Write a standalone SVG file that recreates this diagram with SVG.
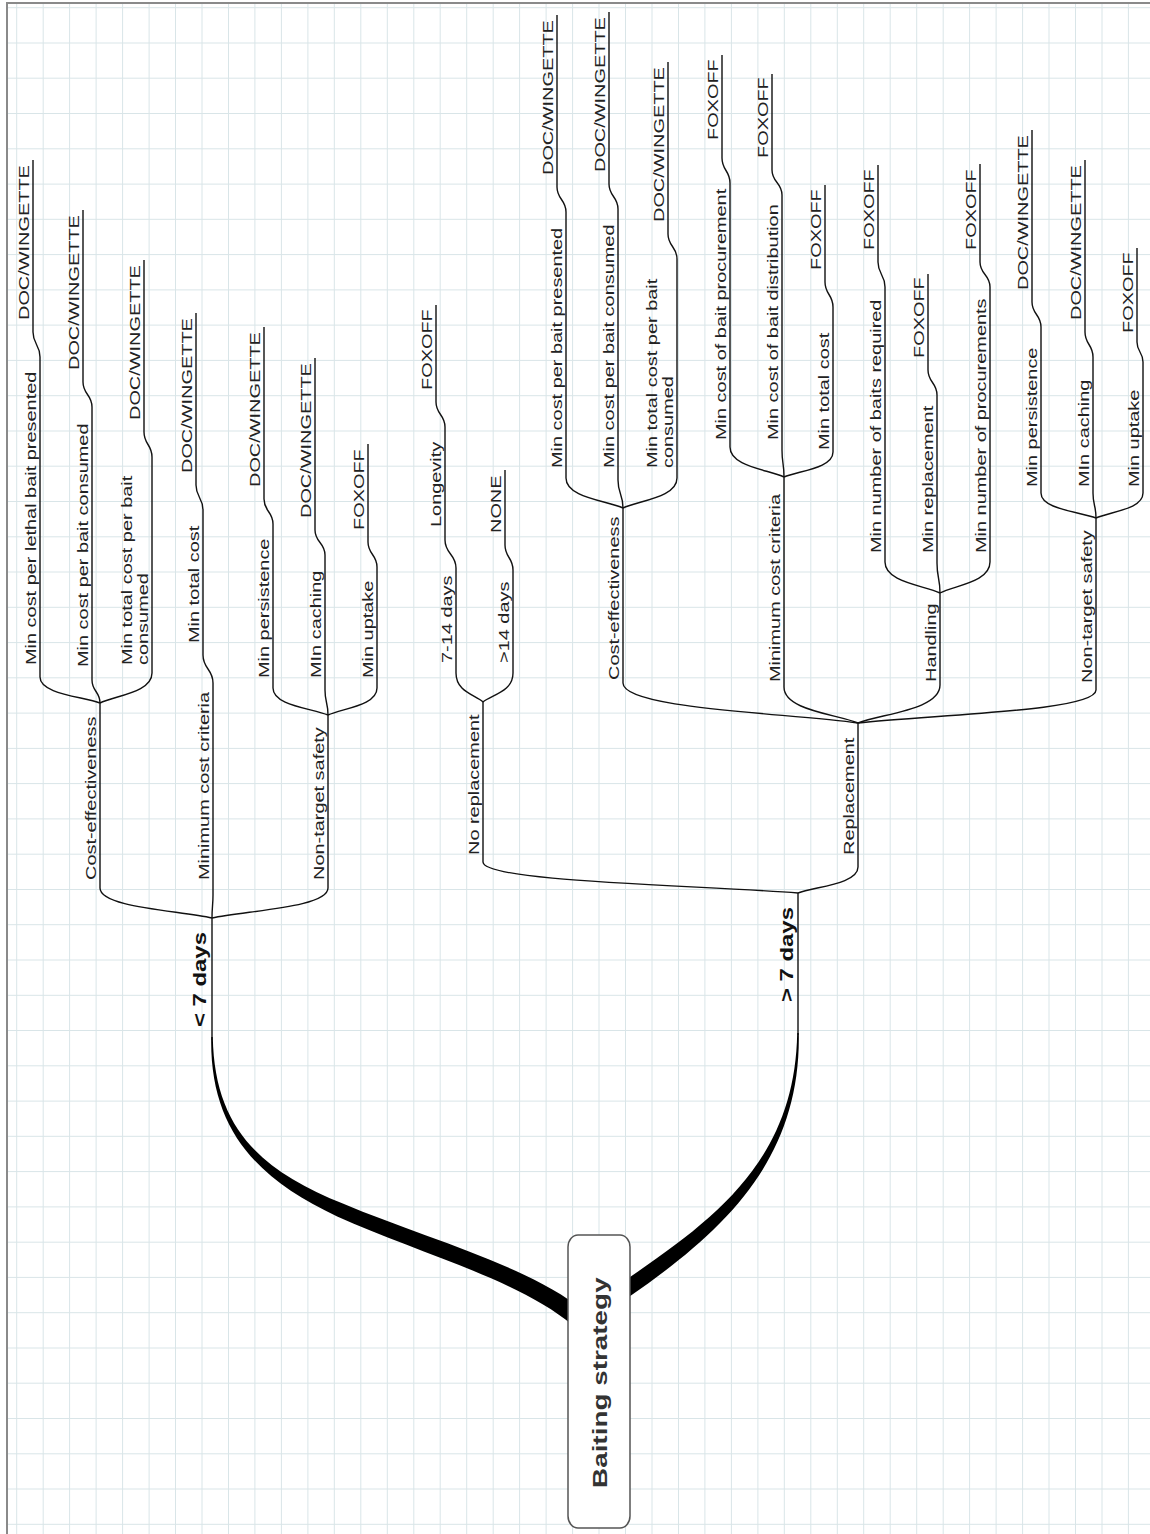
<svg xmlns="http://www.w3.org/2000/svg" width="1150" height="1534" viewBox="0 0 1150 1534">
<style>
.grid{fill:none;stroke:#d9e5e8;stroke-width:1}
.border{fill:none;stroke:#8a8a8a;stroke-width:2}
.conn{fill:none;stroke:#111;stroke-width:1.4}
.thick{fill:#000;stroke:none}
.t{font-family:"Liberation Sans",Arial,sans-serif;font-size:15px;fill:#222}
.b{font-weight:bold;font-size:18px;fill:#111}
.root{font-weight:bold;font-size:21px;fill:#333}
.box{fill:#fff;stroke:#555;stroke-width:1.5}
</style>
<rect width="1150" height="1534" fill="#fff"/>
<path class="grid" d="M16.7,0V1534M43.2,0V1534M69.6,0V1534M96.1,0V1534M122.6,0V1534M149.1,0V1534M175.5,0V1534M202,0V1534M228.5,0V1534M254.9,0V1534M281.4,0V1534M307.9,0V1534M334.3,0V1534M360.8,0V1534M387.3,0V1534M413.8,0V1534M440.2,0V1534M466.7,0V1534M493.2,0V1534M519.6,0V1534M546.1,0V1534M572.6,0V1534M599,0V1534M625.5,0V1534M652,0V1534M678.5,0V1534M704.9,0V1534M731.4,0V1534M757.9,0V1534M784.3,0V1534M810.8,0V1534M837.3,0V1534M863.7,0V1534M890.2,0V1534M916.7,0V1534M943.2,0V1534M969.6,0V1534M996.1,0V1534M1022.6,0V1534M1049,0V1534M1075.5,0V1534M1102,0V1534M1128.4,0V1534M0,7.7H1150M0,43H1150M0,78.2H1150M0,113.5H1150M0,148.8H1150M0,184.1H1150M0,219.3H1150M0,254.6H1150M0,289.9H1150M0,325.1H1150M0,360.4H1150M0,395.7H1150M0,431H1150M0,466.2H1150M0,501.5H1150M0,536.8H1150M0,572H1150M0,607.3H1150M0,642.6H1150M0,677.8H1150M0,713.1H1150M0,748.4H1150M0,783.6H1150M0,818.9H1150M0,854.2H1150M0,889.5H1150M0,924.7H1150M0,960H1150M0,995.3H1150M0,1030.5H1150M0,1065.8H1150M0,1101.1H1150M0,1136.3H1150M0,1171.6H1150M0,1206.9H1150M0,1242.2H1150M0,1277.4H1150M0,1312.7H1150M0,1348H1150M0,1383.2H1150M0,1418.5H1150M0,1453.8H1150M0,1489H1150M0,1524.3H1150"/>
<rect x="0" y="0" width="7" height="1534" fill="#fff"/>
<rect x="0" y="0" width="1150" height="3" fill="#fff"/>
<path class="border" d="M7,1534V3H1150"/>

<g id="connectors">
<path class="thick" d="M212.8,1037 C214.5,1130 262,1170.4 342.8,1203.6 C423.2,1237.7 530.8,1266.1 583.8,1311.1 L572.2,1324.9 C519.2,1279.9 416.8,1252.3 337.2,1216.4 C258,1179.6 209.5,1130 211.2,1037 Z"/>
<path class="thick" d="M798.8,1033 C801,1160 724,1230.8 629.5,1296.6 L620.5,1283.4 C716,1219.2 795,1160 797.2,1033 Z"/>
<path class="conn" d="M212,1040 L212,918"/>
<path class="conn" d="M212,918 C178.4,910.5 100,907.5 100,888 L100,703"/>
<path class="conn" d="M212,918 C212,906 213,906 213,895 L213,683"/>
<path class="conn" d="M212,918 C246.8,910.5 328,907.5 328,888 L328,715"/>
<path class="conn" d="M100,703 C82,696.5 40,693.9 40,677 L40,357"/>
<path class="conn" d="M100,703 C100,691.5 92,691.5 92,680 L92,407"/>
<path class="conn" d="M100,703 C115.6,695.5 152,692.5 152,673 L152,457"/>
<path class="conn" d="M213,683 C213,669 203,669 203,655 L203,510"/>
<path class="conn" d="M328,715 C311.5,708.25 273,705.55 273,688 L273,524"/>
<path class="conn" d="M328,715 C328,702.5 325,702.5 325,690 L325,555"/>
<path class="conn" d="M328,715 C342.7,708.25 377,705.55 377,688 L377,567"/>
<path class="conn" d="M40,357 C40,344.5 33,344.5 33,332 L33,160"/>
<path class="conn" d="M92,407 C92,394.5 83,394.5 83,382 L83,210"/>
<path class="conn" d="M152,457 C152,444.5 144,444.5 144,432 L144,260"/>
<path class="conn" d="M203,510 C203,497.5 196,497.5 196,485 L196,313"/>
<path class="conn" d="M273,524 C273,511.5 264,511.5 264,499 L264,327"/>
<path class="conn" d="M325,555 C325,542.5 315,542.5 315,530 L315,358"/>
<path class="conn" d="M377,567 C377,554.5 368,554.5 368,542 L368,444"/>
<path class="conn" d="M798,1035 L798,893"/>
<path class="conn" d="M798,893 C703.5,885.25 483,882.15 483,862 L483,702"/>
<path class="conn" d="M798,893 C816,886.5 858,883.9 858,867 L858,723"/>
<path class="conn" d="M483,702 C475,694.75 456,691.85 456,673 L456,568"/>
<path class="conn" d="M483,702 C492,694.75 513,691.85 513,673 L513,570"/>
<path class="conn" d="M456,568 C456,554 445,554 445,540 L445,427"/>
<path class="conn" d="M445,427 C445,414.5 436,414.5 436,402 L436,305"/>
<path class="conn" d="M513,570 C513,557.5 505,557.5 505,545 L505,470"/>
<path class="conn" d="M858,723 C787.5,713 623,709 623,683 L623,508"/>
<path class="conn" d="M858,723 C835.8,714 784,710.4 784,687 L784,477"/>
<path class="conn" d="M858,723 C882.6,713.5 940,709.7 940,685 L940,593"/>
<path class="conn" d="M858,723 C929.4,714.75 1096,711.45 1096,690 L1096,518"/>
<path class="conn" d="M623,508 C605.9,500.5 566,497.5 566,478 L566,212"/>
<path class="conn" d="M623,508 C623,494 618,494 618,480 L618,209"/>
<path class="conn" d="M623,508 C639.2,500.5 677,497.5 677,478 L677,259"/>
<path class="conn" d="M566,212 C566,199.5 557,199.5 557,187 L557,15"/>
<path class="conn" d="M618,209 C618,196.5 609,196.5 609,184 L609,12"/>
<path class="conn" d="M677,259 C677,246.5 668,246.5 668,234 L668,62"/>
<path class="conn" d="M784,477 C767.8,469.5 730,466.5 730,447 L730,183"/>
<path class="conn" d="M784,477 C784,463.5 782,463.5 782,450 L782,195"/>
<path class="conn" d="M784,477 C798.7,470.75 833,468.25 833,452 L833,307"/>
<path class="conn" d="M730,183 C730,170.5 722,170.5 722,158 L722,55"/>
<path class="conn" d="M782,195 C782,182.5 772,182.5 772,170 L772,74"/>
<path class="conn" d="M833,307 C833,294.5 825,294.5 825,282 L825,185"/>
<path class="conn" d="M940,593 C923.5,585.25 885,582.15 885,562 L885,287"/>
<path class="conn" d="M940,593 C940,578 937,578 937,563 L937,395"/>
<path class="conn" d="M940,593 C955,585.25 990,582.15 990,562 L990,287"/>
<path class="conn" d="M885,287 C885,274.5 878,274.5 878,262 L878,165"/>
<path class="conn" d="M937,395 C937,382.5 928,382.5 928,370 L928,274"/>
<path class="conn" d="M990,287 C990,274.5 980,274.5 980,262 L980,164"/>
<path class="conn" d="M1096,518 C1079.5,511.75 1041,509.25 1041,493 L1041,327"/>
<path class="conn" d="M1096,518 C1096,505.5 1093,505.5 1093,493 L1093,357"/>
<path class="conn" d="M1096,518 C1110.1,511.75 1143,509.25 1143,493 L1143,362"/>
<path class="conn" d="M1041,327 C1041,314.5 1032,314.5 1032,302 L1032,130"/>
<path class="conn" d="M1093,357 C1093,344.5 1085,344.5 1085,332 L1085,160"/>
<path class="conn" d="M1143,362 C1143,352 1137,352 1137,342 L1137,248"/>
</g>

<g id="root">
<rect class="box" x="568" y="1235" width="62" height="293" rx="10" ry="12"/>
<text class="t root" transform="translate(607,1488) rotate(-90) scale(1.328,1)">Baiting strategy</text>
</g>

<g id="lt7"><text class="t b" transform="translate(206,1027) rotate(-90) scale(1.328,1)">&lt; 7 days</text></g>
<g id="l-ce"><text class="t" transform="translate(96,880) rotate(-90) scale(1.328,1)">Cost-effectiveness</text></g>
<g id="l-mcc"><text class="t" transform="translate(209,880) rotate(-90) scale(1.328,1)">Minimum cost criteria</text></g>
<g id="l-nts"><text class="t" transform="translate(324,880) rotate(-90) scale(1.328,1)">Non-target safety</text></g>
<g id="l-ce-1"><text class="t" transform="translate(36,665) rotate(-90) scale(1.328,1)">Min cost per lethal bait presented</text></g>
<g id="l-ce-2"><text class="t" transform="translate(88,667) rotate(-90) scale(1.328,1)">Min cost per bait consumed</text></g>
<g id="l-ce-3"><text class="t" transform="translate(132,665) rotate(-90) scale(1.328,1)"><tspan x="0" y="0">Min total cost per bait</tspan><tspan x="0" dy="16">consumed</tspan></text></g>
<g id="l-mcc-1"><text class="t" transform="translate(199,643) rotate(-90) scale(1.328,1)">Min total cost</text></g>
<g id="l-nts-1"><text class="t" transform="translate(269,678) rotate(-90) scale(1.328,1)">Min persistence</text></g>
<g id="l-nts-2"><text class="t" transform="translate(321,678) rotate(-90) scale(1.328,1)">MIn caching</text></g>
<g id="l-nts-3"><text class="t" transform="translate(373,678) rotate(-90) scale(1.328,1)">Min uptake</text></g>
<g id="l-leaf-1"><text class="t" transform="translate(29,320) rotate(-90) scale(1.328,1)">DOC/WINGETTE</text></g>
<g id="l-leaf-2"><text class="t" transform="translate(79,370) rotate(-90) scale(1.328,1)">DOC/WINGETTE</text></g>
<g id="l-leaf-3"><text class="t" transform="translate(140,420) rotate(-90) scale(1.328,1)">DOC/WINGETTE</text></g>
<g id="l-leaf-4"><text class="t" transform="translate(192,473) rotate(-90) scale(1.328,1)">DOC/WINGETTE</text></g>
<g id="l-leaf-5"><text class="t" transform="translate(260,487) rotate(-90) scale(1.328,1)">DOC/WINGETTE</text></g>
<g id="l-leaf-6"><text class="t" transform="translate(311,518) rotate(-90) scale(1.328,1)">DOC/WINGETTE</text></g>
<g id="l-leaf-7"><text class="t" transform="translate(364,530) rotate(-90) scale(1.328,1)">FOXOFF</text></g>

<g id="gt7"><text class="t b" transform="translate(793,1002) rotate(-90) scale(1.328,1)">&gt; 7 days</text></g>
<g id="r-norep"><text class="t" transform="translate(479,855) rotate(-90) scale(1.328,1)">No replacement</text></g>
<g id="r-rep"><text class="t" transform="translate(854,855) rotate(-90) scale(1.328,1)">Replacement</text></g>
<g id="r-714"><text class="t" transform="translate(452,663) rotate(-90) scale(1.328,1)">7-14 days</text></g>
<g id="r-14"><text class="t" transform="translate(509,663) rotate(-90) scale(1.328,1)">&gt;14 days</text></g>
<g id="r-longevity"><text class="t" transform="translate(441,527) rotate(-90) scale(1.328,1)">Longevity</text></g>
<g id="r-long-fox"><text class="t" transform="translate(432,390) rotate(-90) scale(1.328,1)">FOXOFF</text></g>
<g id="r-none"><text class="t" transform="translate(501,533) rotate(-90) scale(1.328,1)">NONE</text></g>
<g id="r-ce"><text class="t" transform="translate(619,680) rotate(-90) scale(1.328,1)">Cost-effectiveness</text></g>
<g id="r-mcc"><text class="t" transform="translate(780,682) rotate(-90) scale(1.328,1)">Minimum cost criteria</text></g>
<g id="r-handling"><text class="t" transform="translate(936,682) rotate(-90) scale(1.328,1)">Handling</text></g>
<g id="r-nts"><text class="t" transform="translate(1092,683) rotate(-90) scale(1.328,1)">Non-target safety</text></g>
<g id="r-ce-1"><text class="t" transform="translate(562,468) rotate(-90) scale(1.328,1)">Min cost per bait presented</text></g>
<g id="r-ce-2"><text class="t" transform="translate(614,468) rotate(-90) scale(1.328,1)">Min cost per bait consumed</text></g>
<g id="r-ce-3"><text class="t" transform="translate(657,468) rotate(-90) scale(1.328,1)"><tspan x="0" y="0">Min total cost per bait</tspan><tspan x="0" dy="16">consumed</tspan></text></g>
<g id="r-ce-leaf-1"><text class="t" transform="translate(553,175) rotate(-90) scale(1.328,1)">DOC/WINGETTE</text></g>
<g id="r-ce-leaf-2"><text class="t" transform="translate(605,172) rotate(-90) scale(1.328,1)">DOC/WINGETTE</text></g>
<g id="r-ce-leaf-3"><text class="t" transform="translate(664,222) rotate(-90) scale(1.328,1)">DOC/WINGETTE</text></g>
<g id="r-mcc-1"><text class="t" transform="translate(726,440) rotate(-90) scale(1.328,1)">Min cost of bait procurement</text></g>
<g id="r-mcc-2"><text class="t" transform="translate(778,440) rotate(-90) scale(1.328,1)">Min cost of bait distribution</text></g>
<g id="r-mcc-3"><text class="t" transform="translate(829,450) rotate(-90) scale(1.328,1)">Min total cost</text></g>
<g id="r-mcc-leaf-1"><text class="t" transform="translate(718,140) rotate(-90) scale(1.328,1)">FOXOFF</text></g>
<g id="r-mcc-leaf-2"><text class="t" transform="translate(768,158) rotate(-90) scale(1.328,1)">FOXOFF</text></g>
<g id="r-mcc-leaf-3"><text class="t" transform="translate(821,270) rotate(-90) scale(1.328,1)">FOXOFF</text></g>
<g id="r-h-1"><text class="t" transform="translate(881,553) rotate(-90) scale(1.328,1)">Min number of baits required</text></g>
<g id="r-h-2"><text class="t" transform="translate(933,553) rotate(-90) scale(1.328,1)">Min replacement</text></g>
<g id="r-h-3"><text class="t" transform="translate(986,553) rotate(-90) scale(1.328,1)">Min number of procurements</text></g>
<g id="r-h-leaf-1"><text class="t" transform="translate(874,250) rotate(-90) scale(1.328,1)">FOXOFF</text></g>
<g id="r-h-leaf-2"><text class="t" transform="translate(924,358) rotate(-90) scale(1.328,1)">FOXOFF</text></g>
<g id="r-h-leaf-3"><text class="t" transform="translate(976,250) rotate(-90) scale(1.328,1)">FOXOFF</text></g>
<g id="r-nts-1"><text class="t" transform="translate(1037,487) rotate(-90) scale(1.328,1)">Min persistence</text></g>
<g id="r-nts-2"><text class="t" transform="translate(1089,487) rotate(-90) scale(1.328,1)">MIn caching</text></g>
<g id="r-nts-3"><text class="t" transform="translate(1139,487) rotate(-90) scale(1.328,1)">Min uptake</text></g>
<g id="r-nts-leaf-1"><text class="t" transform="translate(1028,290) rotate(-90) scale(1.328,1)">DOC/WINGETTE</text></g>
<g id="r-nts-leaf-2"><text class="t" transform="translate(1081,320) rotate(-90) scale(1.328,1)">DOC/WINGETTE</text></g>
<g id="r-nts-leaf-3"><text class="t" transform="translate(1133,333) rotate(-90) scale(1.328,1)">FOXOFF</text></g>
</svg>
